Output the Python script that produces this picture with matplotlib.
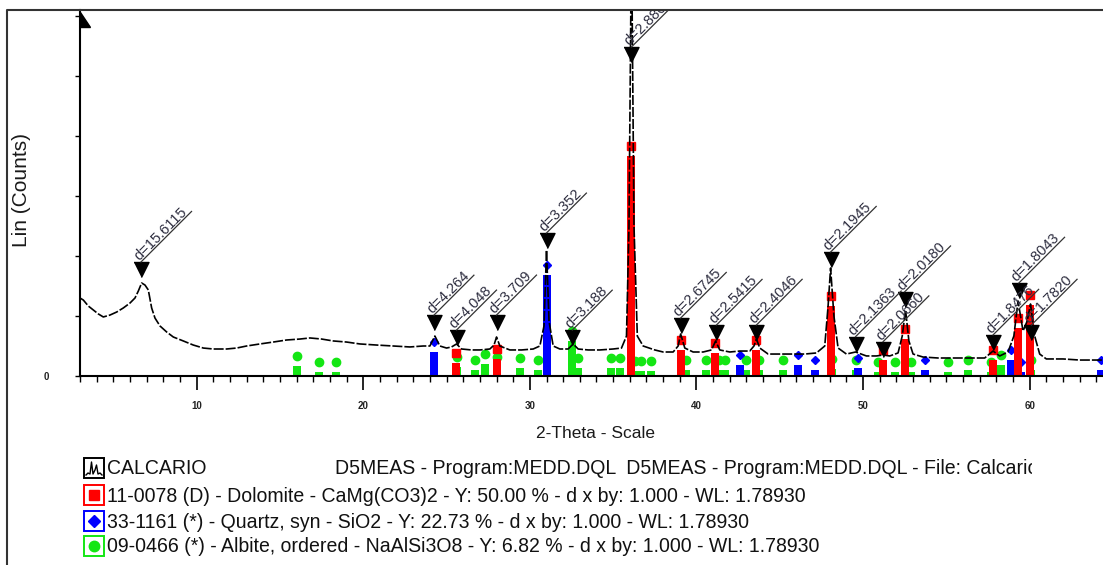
import numpy as np
import matplotlib.pyplot as plt
from matplotlib.patches import Rectangle, Polygon
from matplotlib.transforms import Bbox, TransformedBbox, offset_copy

plt.rcParams['font.family'] = ['Liberation Sans', 'DejaVu Sans']

W, H = 1103, 565

scan_2theta = [3.0, 3.2, 3.5, 3.8, 4.1, 4.4, 4.8, 5.2, 5.6, 6.0, 6.3, 6.5, 6.7, 6.9, 7.1, 7.3,
               7.5, 7.8, 8.2, 8.6, 9.2, 9.8, 10.4, 11.0, 11.8, 12.4, 13.0, 13.8, 14.6, 15.4,
               16.2, 16.8, 17.5, 18.2, 19.0, 19.8, 20.8, 21.8, 22.8, 23.6, 24.0, 24.3, 24.6,
               25.0, 25.3, 25.6, 25.9, 26.5, 27.0, 27.6, 27.85, 28.0, 28.2, 28.8, 29.5, 30.2,
               30.6, 30.85, 31.0, 31.15, 31.4, 31.8, 32.3, 32.6, 32.9, 33.5, 34.2, 35.0, 35.5,
               35.8, 35.95, 36.1, 36.25, 36.45, 36.8, 37.5, 38.0, 38.6, 38.9, 39.05, 39.3, 39.8,
               40.4, 40.9, 41.15, 41.4, 42.0, 42.6, 43.2, 43.45, 43.6, 43.8, 44.3, 45.0, 45.8,
               46.5, 47.2, 47.7, 47.9, 48.05, 48.25, 48.5, 49.0, 49.55, 50.2, 50.8, 51.2, 51.6,
               52.1, 52.35, 52.55, 52.75, 53.0, 53.6, 54.5, 55.5, 56.5, 57.3, 57.8, 58.2, 58.7,
               59.05, 59.3, 59.6, 59.85, 60.05, 60.3, 60.6, 61.0, 62.0, 63.0, 64.4]
scan_counts = [650, 633, 583, 550, 517, 492, 508, 533, 567, 608, 650, 708, 775, 758, 717, 567,
               483, 417, 367, 325, 292, 258, 233, 225, 225, 233, 250, 267, 283, 300,
               308, 317, 308, 292, 283, 267, 258, 250, 242, 250, 250, 333, 250,
               233, 242, 267, 225, 217, 217, 225, 258, 325, 250, 217, 217, 225,
               250, 417, 1050, 458, 250, 225, 225, 267, 225, 217, 217, 225, 233,
               333, 1250, 3700, 1250, 333, 250, 217, 200, 200, 250, 350, 233, 200,
               200, 217, 292, 217, 200, 208, 208, 250, 308, 233, 183, 183, 183,
               183, 192, 250, 583, 900, 500, 233, 183, 200, 167, 167, 175, 167,
               192, 333, 550, 292, 183, 158, 150, 150, 150, 150, 208, 167, 200,
               333, 625, 375, 458, 600, 333, 183, 142, 142, 133, 133]

# reference patterns (2-theta, counts at marker)
dolomite_2theta = [25.55, 28.0, 36.1, 39.1, 41.1, 43.6, 48.05, 51.2, 52.5, 57.8, 59.3, 60.0]
dolomite_counts = [192, 225, 1917, 300, 275, 300, 667, 217, 392, 217, 483, 675]

quartz_2theta = [24.25, 31.0, 42.6, 46.1, 47.1, 49.7, 53.7, 58.9, 59.5, 64.3]
quartz_counts = [283, 925, 175, 175, 133, 150, 133, 217, 117, 133]

albite_2theta = [16.05, 17.35, 18.35, 25.6, 26.7, 27.3, 28.05, 29.4, 30.5, 32.55, 32.9, 34.9,
                 35.4, 36.3, 36.7, 37.3, 39.4, 40.6, 41.35, 41.7, 43.0, 43.75, 45.2, 48.15,
                 49.6, 50.9, 51.9, 52.9, 55.1, 56.3, 57.65, 58.3, 60.05]
albite_counts = [167, 117, 117, 158, 133, 183, 158, 150, 133, 375, 150, 150,
                 150, 125, 125, 125, 133, 133, 133, 133, 133, 133, 133, 142,
                 133, 117, 117, 117, 117, 133, 117, 175, 133]

# peak search results: position, height of the marker top, d-spacing label
peak_2theta = [6.66, 24.25, 25.6, 28.0, 31.0, 32.55, 36.1, 39.05, 41.2, 43.6, 48.05,
               49.55, 51.2, 52.5, 57.8, 59.35, 60.1]
peak_counts = [950, 508, 383, 508, 1192, 383, 2742, 483, 425, 425, 1033,
               328, 286, 702, 342, 775, 425]
peak_labels = ['d=15.6115', 'd=4.264', 'd=4.048', 'd=3.709', 'd=3.352', 'd=3.188',
               'd=2.8866', 'd=2.6745', 'd=2.5415', 'd=2.4046', 'd=2.1945', 'd=2.1363',
               'd=2.0660', 'd=2.0180', 'd=1.8476', 'd=1.8043', 'd=1.7820']

x_ticks = [10, 20, 30, 40, 50, 60]
y_ticks = [0, 500, 1000, 1500, 2000, 2500, 3000]

legend_texts = ['CALCARIO',
                '11-0078 (D) - Dolomite - CaMg(CO3)2 - Y: 50.00 % - d x by: 1.000 - WL: 1.78930',
                '33-1161 (*) - Quartz, syn - SiO2 - Y: 22.73 % - d x by: 1.000 - WL: 1.78930',
                '09-0466 (*) - Albite, ordered - NaAlSi3O8 - Y: 6.82 % - d x by: 1.000 - WL: 1.78930']
header_text = 'D5MEAS - Program:MEDD.DQL  D5MEAS - Program:MEDD.DQL - File: Calcario.raw'

RED, BLUE, GREEN = '#ff0000', '#0000ff', '#14e614'

fig = plt.figure(figsize=(W / 100, H / 100), dpi=100)
ax = fig.add_axes([80 / W, 1 - 376 / H, 1 - 80 / W, 366 / H])
ax.set_xlim(3.0, 64.4)
ax.set_ylim(0, 3050)
px = 3050 / 366  # counts per pixel

for s in ['top', 'right']:
    ax.spines[s].set_visible(False)
for s in ['left', 'bottom']:
    ax.spines[s].set_linewidth(1.5)
    ax.spines[s].set_color('black')

ax.set_xticks(x_ticks)
ax.set_xticks(np.arange(3, 65), minor=True)
ax.tick_params(axis='x', which='major', length=10, width=1.2, pad=8, labelsize=7, labelcolor='#222222')
ax.tick_params(axis='x', which='minor', length=4.3, width=1)
for lab in ax.get_xticklabels():
    lab.set_fontweight('bold')
ax.set_yticks(y_ticks, labels=['0'] + [''] * (len(y_ticks) - 1))
ax.tick_params(axis='y', length=3.6, width=1, pad=19, labelsize=7, labelcolor='#222222')
for lab in ax.get_yticklabels():
    lab.set_fontweight('bold')


def sticks(xs, hs, color, marker, ms):
    tops = [max(h - 10 * px, 0) for h in hs]
    ax.bar(xs, tops, width=0.48, color=color, lw=0, zorder=2)
    ax.plot(xs, hs, ls='none', marker=marker, ms=ms, color=color, mec=color, zorder=2)


sticks(albite_2theta, albite_counts, GREEN, 'o', 6)
sticks(quartz_2theta, quartz_counts, BLUE, 'D', 4.5)
sticks(dolomite_2theta, dolomite_counts, RED, 's', 5.5)

ax.plot(scan_2theta, scan_counts, color='black', lw=1.2, ls=(0, (6, 1.2)), zorder=3)

# peak markers (triangle hangs below the given point)
tri = [(-1, 0), (1, 0), (0, -2)]
ax.plot(peak_2theta, peak_counts, ls='none', marker=tri, ms=21.6, color='black', zorder=4)

renderer = fig.canvas.get_renderer()
lab_size = 10.5
lab_tr = offset_copy(ax.transData, fig=fig, x=-2, y=1, units='dots')
for x, y, s in zip(peak_2theta, peak_counts, peak_labels):
    tmp = fig.text(0, 0, s, fontsize=lab_size)
    w = tmp.get_window_extent(renderer).width
    tmp.remove()
    p = ax.transData.transform((x, y))
    e = ax.transData.inverted().transform(p + (w + 3) / np.sqrt(2))
    ax.plot([x, e[0]], [y, e[1]], color='#333333', lw=0.9, zorder=4)
    ax.text(x, y, s, transform=lab_tr, fontsize=lab_size, rotation=45, rotation_mode='anchor',
            ha='left', va='baseline', color='#2e2e40', clip_on=True, zorder=5)

# overlay in pixel coordinates for frame, axis titles and legend
ov = fig.add_axes([0, 0, 1, 1], zorder=5)
ov.set_xlim(0, W)
ov.set_ylim(H, 0)
ov.axis('off')
ov.patch.set_visible(False)

ov.plot([7, 7, W], [H, 10, 10], color='#333333', lw=1.5, solid_capstyle='butt')
ov.add_patch(Polygon([(80, 12), (80, 27), (90, 27)], closed=True, color='black'))

ov.text(22, 190, 'Lin (Counts)', rotation=90, ha='center', va='center', fontsize=15, color='#1a1a1a')
ov.text(596, 433, '2-Theta - Scale', ha='center', va='center', fontsize=12.5, color='#1a1a1a')

# legend font scaled so the dolomite line spans the same width as the picture
tmp = fig.text(0, 0, legend_texts[1], fontsize=14)
leg_size = 14 * 703 / tmp.get_window_extent(renderer).width
tmp.remove()

row_y = [468, 495, 521, 546]
icon_colors = ['black', RED, BLUE, GREEN]
icon_markers = [None, 's', 'D', 'o']
icon_ms = [0, 7, 6, 7.5]
clip = TransformedBbox(Bbox.from_extents(0, 0, 1032, H), ov.transData)
for y, txt, c, m, ms in zip(row_y, legend_texts, icon_colors, icon_markers, icon_ms):
    ov.add_patch(Rectangle((84, y - 10), 20, 20, fill=False, ec=c, lw=1.4))
    if m is None:
        ov.plot([86, 88, 90, 91.5, 93, 95, 96.5, 98, 100, 102],
                [y + 7, y + 5, y + 6, y - 6, y + 6, y + 2, y - 3, y + 6, y + 5, y + 7],
                color='black', lw=1)
    else:
        ov.plot(94, y, marker=m, ms=ms, color=c, mec=c)
    ov.text(107, y + 1, txt, ha='left', va='center', fontsize=leg_size, color='#111111')

t = ov.text(335, row_y[0] + 1, header_text, ha='left', va='center', fontsize=leg_size, color='#111111')
t.set_clip_on(True)
t.set_clip_box(clip)

fig.savefig('out.png', dpi=100)
